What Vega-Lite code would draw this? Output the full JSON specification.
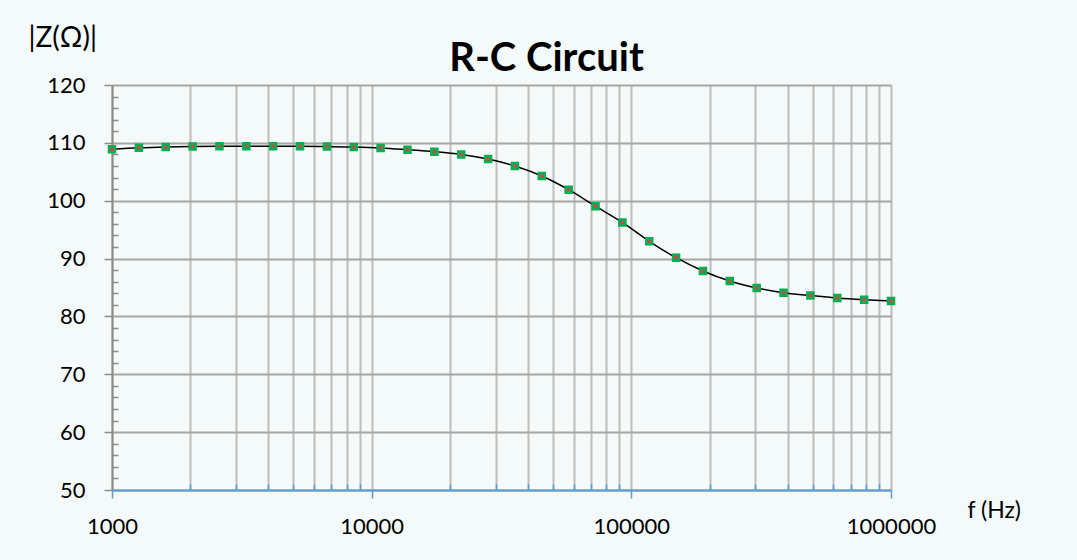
{
  "$schema": "https://vega.github.io/schema/vega-lite/v6.json",
  "width": 779,
  "height": 405,
  "autosize": {"type": "none"},
  "padding": {"left": 112, "top": 85, "right": 186, "bottom": 70},
  "background": "#f4f9f9",
  "title": {
    "text": "R-C Circuit",
    "font": "Lato",
    "fontSize": 40,
    "fontWeight": "bold",
    "color": "#000000",
    "anchor": "middle",
    "frame": "group",
    "baseline": "alphabetic",
    "offset": 16,
    "dx": 45,
    "dy": 103
  },
  "config": {
    "view": {"stroke": null},
    "font": "Lato"
  },
  "data": {
    "values": [
      {"f": 1000, "z": 108.9},
      {"f": 1268.96, "z": 109.15},
      {"f": 1610.26, "z": 109.3},
      {"f": 2043.36, "z": 109.38},
      {"f": 2592.94, "z": 109.4},
      {"f": 3290.34, "z": 109.4},
      {"f": 4175.32, "z": 109.4},
      {"f": 5298.32, "z": 109.4},
      {"f": 6723.36, "z": 109.35},
      {"f": 8531.68, "z": 109.28},
      {"f": 10826.4, "z": 109.12},
      {"f": 13738.2, "z": 108.82},
      {"f": 17433.3, "z": 108.48},
      {"f": 22122.2, "z": 108.0},
      {"f": 28072.2, "z": 107.2},
      {"f": 35622.5, "z": 106.0},
      {"f": 45203.5, "z": 104.27},
      {"f": 57361.5, "z": 101.9},
      {"f": 72789.5, "z": 99.05},
      {"f": 92367.1, "z": 96.25},
      {"f": 117210, "z": 92.98},
      {"f": 148735, "z": 90.15},
      {"f": 188739, "z": 87.86},
      {"f": 239503, "z": 86.13},
      {"f": 303920, "z": 84.93},
      {"f": 385662, "z": 84.08},
      {"f": 489390, "z": 83.62},
      {"f": 621017, "z": 83.17},
      {"f": 788046, "z": 82.87},
      {"f": 1000000, "z": 82.65}
    ]
  },
  "encoding": {
    "x": {
      "field": "f",
      "type": "quantitative",
      "scale": {"type": "log", "domain": [1000, 1000000], "nice": false},
      "axis": {
        "values": [1000,2000,3000,4000,5000,6000,7000,8000,9000,10000,20000,30000,40000,50000,60000,70000,80000,90000,100000,200000,300000,400000,500000,600000,700000,800000,900000,1000000],
        "labelExpr": "indexof([1000,10000,100000,1000000], datum.value) >= 0 ? format(datum.value, 'd') : ''",
        "labelFont": "Lato",
        "labelFontSize": 22,
        "labelColor": "#000000",
        "labelBaseline": "alphabetic",
        "labelPadding": 35,
        "labelFlush": false,
        "labelOverlap": false,
        "domainColor": "#5b9bd5",
        "domainWidth": 2,
        "tickColor": "#5b9bd5",
        "tickWidth": 1.5,
        "tickSize": {"condition": {"test": "indexof([1000,10000,100000,1000000], datum.value) < 0", "value": -6}, "value": 8},
        "grid": true,
        "gridColor": "#bdbdbd",
        "gridWidth": 2,
        "title": "f (Hz)",
        "titleFont": "Lato",
        "titleFontSize": 23,
        "titleFontWeight": "normal",
        "titleColor": "#000000",
        "titleAlign": "left",
        "titleBaseline": "alphabetic",
        "titleAngle": 0,
        "titleX": 855,
        "titleY": 27
      }
    },
    "y": {
      "field": "z",
      "type": "quantitative",
      "scale": {"domain": [50, 120], "nice": false, "zero": false},
      "axis": {
        "values": [50,52,54,56,58,60,62,64,66,68,70,72,74,76,78,80,82,84,86,88,90,92,94,96,98,100,102,104,106,108,110,112,114,116,118,120],
        "labelExpr": "datum.value % 10 === 0 ? datum.label : ''",
        "labelFont": "Lato",
        "labelFontSize": 22,
        "labelColor": "#000000",
        "labelBaseline": "middle",
        "labelPadding": 19,
        "labelFlush": false,
        "labelOverlap": false,
        "domainColor": "#8c8c8c",
        "domainWidth": 2,
        "tickColor": "#8c8c8c",
        "tickWidth": 1.5,
        "tickSize": {"condition": {"test": "datum.value % 10 !== 0", "value": -6}, "value": 8},
        "grid": true,
        "gridColor": "#a6a6a6",
        "gridWidth": 2,
        "gridOpacity": {"condition": {"test": "datum.value % 10 !== 0", "value": 0}, "value": 1},
        "title": "|Z(Ω)|",
        "titleFont": "Lato",
        "titleFontSize": 28,
        "titleFontWeight": "normal",
        "titleColor": "#000000",
        "titleAlign": "left",
        "titleBaseline": "alphabetic",
        "titleAngle": 0,
        "titleX": -84,
        "titleY": -39
      }
    }
  },
  "layer": [
    {
      "mark": {"type": "line", "color": "#000000", "strokeWidth": 1.5, "interpolate": "monotone"}
    },
    {
      "mark": {"type": "square", "size": 36, "fill": "#c0504d", "stroke": "#00b050", "strokeWidth": 2.5, "opacity": 1, "filled": true}
    }
  ]
}
